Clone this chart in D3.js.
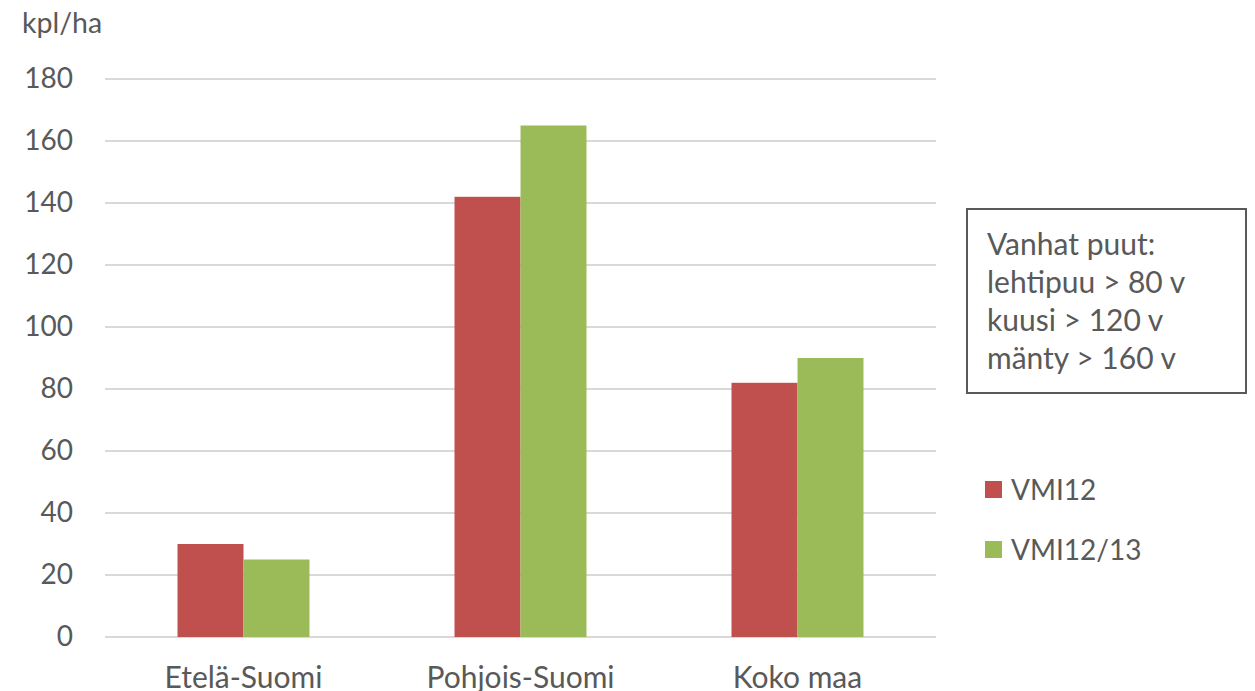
<!DOCTYPE html>
<html>
<head>
<meta charset="utf-8">
<script src="https://cdn.jsdelivr.net/npm/d3@7"></script>
<style>
  body { margin: 0; background: #fff; }
  text { font-family: Lato, 'Open Sans', sans-serif; fill: #595959; }
</style>
</head>
<body>
<div id="chart"></div>
<script>
// data
const categories = ['Etelä-Suomi', 'Pohjois-Suomi', 'Koko maa']
const seriesNames = ['VMI12', 'VMI12/13']
const vmi12 = [30, 142, 82]
const vmi1213 = [25, 165, 90]
const yTicks = [0, 20, 40, 60, 80, 100, 120, 140, 160, 180]
const noteLines = ['Vanhat puut:', 'lehtipuu > 80 v', 'kuusi > 120 v', 'mänty > 160 v']
const colors = ['#C0504D', '#9BBB59']

const width = 1255
const height = 691
const margin = { top: 79, right: 319, bottom: 54, left: 105 }

const svg = d3.select('#chart').append('svg')
  .attr('width', width)
  .attr('height', height)

const x = d3.scaleBand()
  .domain(categories)
  .range([margin.left, width - margin.right])
  .paddingInner(0.5235)
  .paddingOuter(0.5235 / 2)

const xSub = d3.scaleBand()
  .domain(seriesNames)
  .range([0, x.bandwidth()])

const y = d3.scaleLinear()
  .domain([0, 180])
  .range([height - margin.bottom, margin.top])

// gridlines
svg.append('g')
  .selectAll('line')
  .data(yTicks)
  .enter()
  .append('line')
  .attr('x1', margin.left)
  .attr('x2', width - margin.right)
  .attr('y1', d => y(d))
  .attr('y2', d => y(d))
  .attr('stroke', '#D9D9D9')
  .attr('stroke-width', 2)

// y axis (labels only)
const gY = svg.append('g')
  .attr('transform', `translate(${margin.left},0)`)
  .call(d3.axisLeft(y).tickValues(yTicks).tickSize(0).tickPadding(32))
gY.select('.domain').remove()
gY.selectAll('text')
  .style('font-size', '28px')
  .attr('fill', '#595959')

svg.append('text')
  .attr('x', 22)
  .attr('y', 33)
  .style('font-size', '28.5px')
  .text('kpl/ha')

// bars
const rows = categories.map((c, i) => ({ cat: c, values: [vmi12[i], vmi1213[i]] }))
const groups = svg.append('g')
  .selectAll('g')
  .data(rows)
  .enter()
  .append('g')
  .attr('transform', d => `translate(${x(d.cat)},0)`)

groups.selectAll('rect')
  .data(d => d.values.map((v, j) => ({ key: seriesNames[j], value: v, j })))
  .enter()
  .append('rect')
  .attr('x', d => xSub(d.key))
  .attr('width', xSub.bandwidth())
  .attr('y', d => y(d.value))
  .attr('height', d => y(0) - y(d.value))
  .attr('fill', d => colors[d.j])

// x axis labels
const gX = svg.append('g')
  .attr('transform', `translate(0,${y(0)})`)
  .call(d3.axisBottom(x).tickSize(0).tickPadding(30))
gX.select('.domain').remove()
gX.selectAll('text')
  .style('font-size', '30px')
  .attr('fill', '#595959')

// note box
svg.append('rect')
  .attr('x', 967)
  .attr('y', 209)
  .attr('width', 279)
  .attr('height', 184)
  .attr('fill', 'none')
  .attr('stroke', '#595959')
  .attr('stroke-width', 2)

svg.append('g')
  .selectAll('text')
  .data(noteLines)
  .enter()
  .append('text')
  .attr('x', 987)
  .attr('y', (d, i) => 255 + i * 38)
  .style('font-size', '30px')
  .text(d => d)

// legend
const legend = svg.append('g')
  .selectAll('g')
  .data(seriesNames)
  .enter()
  .append('g')
  .attr('transform', (d, i) => `translate(985,${481 + i * 60})`)

legend.append('rect')
  .attr('width', 17)
  .attr('height', 17)
  .attr('fill', (d, i) => colors[i])

legend.append('text')
  .attr('x', 26)
  .attr('y', 19)
  .style('font-size', '28px')
  .text(d => d)
</script>
</body>
</html>
